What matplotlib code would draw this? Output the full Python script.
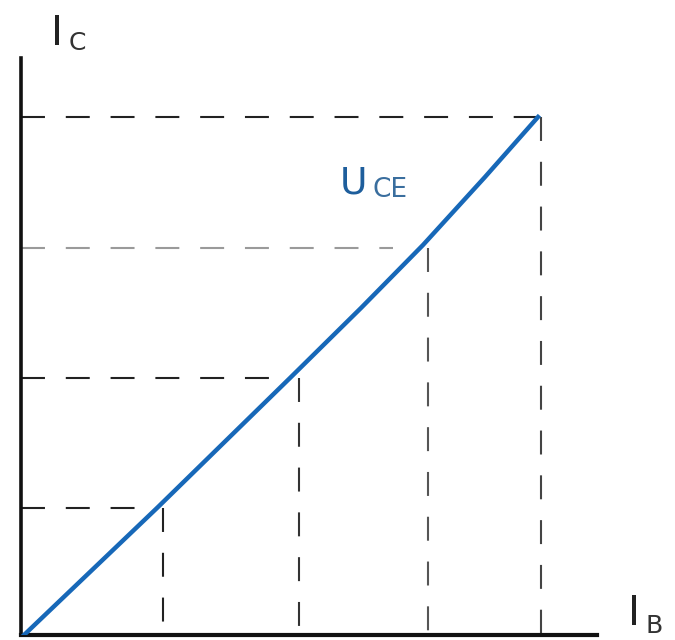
from matplotlib import pyplot as plt

# curve readings (units from the axes origin, x right / y up)
ib = [3, 136, 269, 340, 402, 464, 517]
ic = [0, 127, 257, 327, 390, 458, 518]

# dashed guide lines: where each vertical / horizontal sits, and how far the horizontal runs
guide_x = [142, 278, 407, 520]
guide_y = [127, 257, 387, 518]
guide_end = [136, 269, 372, 520]
hcolors = ["#222222", "#222222", "#9a9a9a", "#222222"]
vcolors = ["#222222", "#333333", "#555555", "#444444"]

if __name__ == "__main__":
    fig = plt.figure(figsize=(6.75, 6.4), dpi=100)
    ax = fig.add_axes([21 / 675, 5 / 640, 576 / 675, 577 / 640])
    ax.set_xlim(0, 576)
    ax.set_ylim(0, 577)

    dash = (0, (11.5, 10))
    for x, y, e, hc, vc in zip(guide_x, guide_y, guide_end, hcolors, vcolors):
        ax.plot([0, e], [y, y], color=hc, lw=1.5, linestyle=dash, zorder=1)
        ax.plot([x, x], [y, 0], color=vc, lw=1.5, linestyle=dash, zorder=1)

    ax.plot(ib, ic, color="#1768b8", lw=3.2, solid_joinstyle="round", zorder=3)

    for s in ["top", "right"]:
        ax.spines[s].set_visible(False)
    ax.spines["left"].set_linewidth(2.6)
    ax.spines["bottom"].set_linewidth(3)
    ax.spines["left"].set_color("#111111")
    ax.spines["bottom"].set_color("#111111")
    ax.set_xticks([])
    ax.set_yticks([])

    # axis labels
    fig.text(51 / 675, 1 - 45 / 640, "I", fontsize=29, color="#222222")
    fig.text(69 / 675, 1 - 50 / 640, "C", fontsize=18, color="#333333")
    fig.text(628 / 675, 1 - 625 / 640, "I", fontsize=29, color="#222222")
    fig.text(645 / 675, 1 - 633 / 640, "B", fontsize=18, color="#333333")

    # curve label
    fig.text(340 / 675, 1 - 194 / 640, "U", fontsize=27, color="#1e5e9c")
    fig.text(372 / 675, 1 - 197 / 640, "CE", fontsize=19, color="#3a6e9e")

    plt.savefig("out.png", dpi=100)
